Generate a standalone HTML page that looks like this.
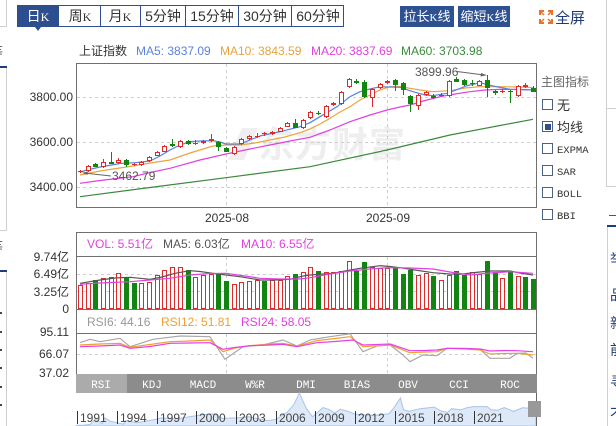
<!DOCTYPE html>
<html><head><meta charset="utf-8"><style>
html,body{margin:0;padding:0;background:#fff;}
body{width:616px;height:426px;overflow:hidden;position:relative;}
svg{position:absolute;left:0;top:0;display:block;}
text{font-family:"Liberation Sans","Noto Sans CJK SC",sans-serif;}
.m text, text.m{font-family:"Liberation Mono","Noto Sans CJK SC",monospace;}
</style></head><body>
<svg width="616" height="426" viewBox="0 0 616 426" xmlns="http://www.w3.org/2000/svg">
<!-- left edge decorations -->
<g stroke="#cfcfcf" fill="none" shape-rendering="crispEdges">
<path d="M6.5,0 V26.5 H0"/>
<path d="M6.5,68 V230.5 H0"/>
<path d="M6.5,272 V426"/>
<path d="M606.5,0 V186.5 H616 M606.5,108.5 H616"/>
<path d="M607.5,227 V426"/>
</g>
<rect x="0" y="66" width="7" height="2" fill="#1f3f7a"/>
<rect x="0" y="270" width="7" height="2" fill="#1f3f7a"/>
<rect x="607" y="225" width="9" height="2" fill="#1f3f7a"/>
<text x="-11" y="57" font-size="14" fill="#555">等</text>
<text x="-11" y="252" font-size="14" fill="#555">等</text>
<g fill="#3b4a5a"><rect x="0" y="312" width="2" height="2"/><rect x="0" y="331" width="2" height="2"/><rect x="0" y="349" width="2" height="2"/><rect x="0" y="367" width="2" height="2"/><rect x="0" y="386" width="2" height="2"/><rect x="0" y="404" width="2" height="2"/></g>
<g font-size="14" fill="#23406e">
<text x="610" y="264">举</text><text x="610" y="300">品</text><text x="610" y="328">新</text><text x="610" y="355">前</text><text x="610" y="387">寻</text><text x="610" y="419">不</text>
</g>
<rect x="609" y="215" width="7" height="1" fill="#555"/>

<!-- top tabs -->
<rect x="17.5" y="5.5" width="326" height="21" fill="#fff" stroke="#2d4f8f"/>
<rect x="17" y="5" width="42" height="22" fill="#2d4f8f"/>
<polygon points="35,27 41,27 38,31" fill="#2d4f8f"/>
<g stroke="#2d4f8f" shape-rendering="crispEdges"><line x1="100.5" y1="5" x2="100.5" y2="27"/><line x1="140.5" y1="5" x2="140.5" y2="27"/><line x1="185.5" y1="5" x2="185.5" y2="27"/><line x1="238.5" y1="5" x2="238.5" y2="27"/><line x1="291.5" y1="5" x2="291.5" y2="27"/></g>
<g font-size="14" text-anchor="middle">
<text x="38" y="21" fill="#fff">日<tspan font-family="Liberation Serif" font-size="12">K</tspan></text>
<text x="80" y="21" fill="#333">周<tspan font-family="Liberation Serif" font-size="12">K</tspan></text>
<text x="120" y="21" fill="#333">月<tspan font-family="Liberation Serif" font-size="12">K</tspan></text>
<text x="163" y="21" fill="#333">5分钟</text>
<text x="212" y="21" fill="#333">15分钟</text>
<text x="265" y="21" fill="#333">30分钟</text>
<text x="318" y="21" fill="#333">60分钟</text>
</g>
<rect x="400" y="6" width="54" height="21" fill="#2d5191"/>
<rect x="458" y="6" width="52" height="21" fill="#2d5191"/>
<g font-size="13" fill="#fff" text-anchor="middle"><text x="427" y="21">拉长<tspan font-family="Liberation Serif" font-size="11">K</tspan>线</text><text x="484" y="21">缩短<tspan font-family="Liberation Serif" font-size="11">K</tspan>线</text></g>
<g stroke="#e8742a" stroke-width="2" fill="none"><path d="M540,15 V11 H544"/><path d="M548,11 H552 V15"/><path d="M540,19 V23 H544"/><path d="M552,19 V23 H548"/><path d="M541,12 L544,15 M551,12 L548,15 M541,22 L544,19 M551,22 L548,19" stroke-width="1.5"/></g>
<text x="555" y="23" font-size="15" fill="#1d3b75">全屏</text>

<!-- legend line -->
<g font-size="12">
<text x="79" y="55" fill="#333">上证指数</text>
<text x="136" y="55" fill="#5a82e0">MA5: 3837.09</text>
<text x="220" y="55" fill="#e8a33a">MA10: 3843.59</text>
<text x="311" y="55" fill="#e040e0">MA20: 3837.69</text>
<text x="401" y="55" fill="#3a8a3a">MA60: 3703.98</text>
</g>

<!-- main chart -->
<path d="M228,160 L242,128 L258,128 L244,160 Z" fill="#efefef"/>
<text x="258" y="157" font-size="36" font-weight="bold" fill="#eeeeee" letter-spacing="1">东方财富</text>
<g stroke="#cfcfcf" stroke-dasharray="3,3" shape-rendering="crispEdges">
<line x1="77" y1="97.5" x2="536" y2="97.5"/><line x1="77" y1="142.5" x2="536" y2="142.5"/><line x1="77" y1="187.5" x2="536" y2="187.5"/>
<line x1="226.5" y1="64" x2="226.5" y2="207"/><line x1="387.5" y1="64" x2="387.5" y2="207"/>
</g>
<rect x="76.5" y="63.5" width="460" height="144" fill="none" stroke="#707070" shape-rendering="crispEdges"/>
<g font-size="12" fill="#333" text-anchor="end"><text x="73" y="101">3800.00</text><text x="73" y="146">3600.00</text><text x="73" y="191">3400.00</text></g>
<g font-size="12" fill="#333" text-anchor="middle"><text x="227" y="222">2025-08</text><text x="388" y="222">2025-09</text></g>

<!-- MA lines -->
<g fill="none" stroke-width="1.2" stroke-linejoin="round">
<polyline stroke="#3a8a3a" points="80,196.7 150,187.5 226,177.7 310,166.7 387,150 450,135 500,125.5 533,119.3"/>
<polyline stroke="#e040e0" points="80,183.3 100,180.5 133,176.7 150,172.5 170,168.3 200,160 226,154 250,149 270,145 290,141 310,137.3 330,130 350,121.7 370,115 387,110 400,107 410,105 425,100.5 440,96.7 455,94 470,91.7 485,90 500,89.3 520,89.5 533,90"/>
<polyline stroke="#eaa540" points="80,175 100,171 133,166 150,163 170,160 190,153 213,146 226,145 240,145 255,143 270,140 285,137 300,132.7 310,129 320,124 330,118.3 340,112 350,106.7 360,100 370,95 380,90 390,86.7 400,86.5 410,88.3 420,90 433,91.7 450,90.7 465,88 480,86.7 500,86.7 520,87 533,87.7"/>
<polyline stroke="#5a82e0" points="80,172 87,170 100,167 120,163.5 135,162.7 150,161 160,156 170,150 180,145 190,141.7 200,141 213,140.7 220,142 226,144 240,144 250,140 260,136 280,131.7 300,126.7 310,122.7 320,116.7 337,106.7 350,96.7 360,91.7 370,89 380,86.7 400,87.3 413,91.7 425,95 433,95.7 447,93.3 456,90 466,86 480,82.7 493,86 510,89.3 533,90"/>
</g>

<!-- red candles -->
<g stroke="#dd2a2a" fill="#fff" shape-rendering="crispEdges">
<line x1="80.5" y1="170" x2="80.5" y2="173"/><line x1="78" y1="171.5" x2="83" y2="171.5"/>
<line x1="88.5" y1="165" x2="88.5" y2="172"/><rect x="86.5" y="166.5" width="4" height="4"/>
<line x1="103.5" y1="159" x2="103.5" y2="168"/><rect x="101.5" y="162.5" width="4" height="4"/>
<line x1="118.5" y1="158" x2="118.5" y2="164"/><rect x="116.5" y="160.5" width="4" height="2"/>
<line x1="134.5" y1="163" x2="134.5" y2="166"/><line x1="132" y1="164.5" x2="137" y2="164.5"/>
<line x1="141.5" y1="161" x2="141.5" y2="166"/><rect x="139.5" y="162.5" width="4" height="2"/>
<line x1="149.5" y1="156" x2="149.5" y2="162"/><rect x="147.5" y="157.5" width="4" height="3"/>
<line x1="157.5" y1="151" x2="157.5" y2="156"/><rect x="155.5" y="152.5" width="4" height="3"/>
<line x1="164.5" y1="145" x2="164.5" y2="152"/><rect x="162.5" y="146.5" width="4" height="5"/>
<line x1="180.5" y1="140" x2="180.5" y2="148"/><rect x="178.5" y="141.5" width="4" height="5"/>
<line x1="195.5" y1="140" x2="195.5" y2="145"/><line x1="193" y1="143.5" x2="198" y2="143.5"/>
<line x1="203.5" y1="140" x2="203.5" y2="144"/><rect x="201.5" y="141.5" width="4" height="1"/>
<line x1="211.5" y1="134" x2="211.5" y2="142"/><rect x="209.5" y="139.5" width="4" height="1"/>
<line x1="234.5" y1="146" x2="234.5" y2="155"/><rect x="232.5" y="147.5" width="4" height="6"/>
<line x1="241.5" y1="138" x2="241.5" y2="145"/><rect x="239.5" y="139.5" width="4" height="4"/>
<line x1="249.5" y1="135" x2="249.5" y2="140"/><rect x="247.5" y="136.5" width="4" height="2"/>
<line x1="257.5" y1="133" x2="257.5" y2="138"/><line x1="255" y1="136.5" x2="260" y2="136.5"/>
<line x1="264.5" y1="132" x2="264.5" y2="136"/><line x1="262" y1="133.5" x2="267" y2="133.5"/>
<line x1="272.5" y1="131" x2="272.5" y2="135"/><rect x="270.5" y="132.5" width="4" height="1"/>
<line x1="280.5" y1="127" x2="280.5" y2="132"/><rect x="278.5" y="128.5" width="4" height="3"/>
<line x1="287.5" y1="122" x2="287.5" y2="127"/><rect x="285.5" y="123.5" width="4" height="3"/>
<line x1="303.5" y1="119" x2="303.5" y2="129"/><rect x="301.5" y="120.5" width="4" height="7"/>
<line x1="310.5" y1="111" x2="310.5" y2="119"/><rect x="308.5" y="112.5" width="4" height="5"/>
<line x1="326.5" y1="105" x2="326.5" y2="118"/><rect x="324.5" y="106.5" width="4" height="10"/>
<line x1="333.5" y1="102" x2="333.5" y2="106"/><rect x="331.5" y="103.5" width="4" height="1"/>
<line x1="341.5" y1="91" x2="341.5" y2="105"/><rect x="339.5" y="92.5" width="4" height="11"/>
<line x1="349.5" y1="78" x2="349.5" y2="88"/><rect x="347.5" y="79.5" width="4" height="7"/>
<line x1="372.5" y1="88" x2="372.5" y2="107"/><rect x="370.5" y="89.5" width="4" height="8"/>
<line x1="380.5" y1="83" x2="380.5" y2="89"/><rect x="378.5" y="84.5" width="4" height="3"/>
<line x1="387.5" y1="80" x2="387.5" y2="84"/><rect x="385.5" y="81.5" width="4" height="1"/>
<line x1="418.5" y1="94" x2="418.5" y2="110"/><rect x="416.5" y="95.5" width="4" height="10"/>
<line x1="426.5" y1="91" x2="426.5" y2="96"/><rect x="424.5" y="92.5" width="4" height="2"/>
<line x1="441.5" y1="93" x2="441.5" y2="97"/><line x1="439" y1="95.5" x2="444" y2="95.5"/>
<line x1="449.5" y1="80" x2="449.5" y2="97"/><rect x="447.5" y="81.5" width="4" height="14"/>
<line x1="479.5" y1="80" x2="479.5" y2="86"/><rect x="477.5" y="81.5" width="4" height="4"/>
<line x1="502.5" y1="89" x2="502.5" y2="93"/><line x1="500" y1="91.5" x2="505" y2="91.5"/>
<line x1="518.5" y1="85" x2="518.5" y2="97"/><rect x="516.5" y="86.5" width="4" height="9"/>
<line x1="525.5" y1="83" x2="525.5" y2="88"/><rect x="523.5" y="85.5" width="4" height="1"/>
</g>
<!-- green candles -->
<g stroke="#128412" fill="#128412" shape-rendering="crispEdges">
<line x1="95.5" y1="163" x2="95.5" y2="167"/><rect x="93" y="164" width="5" height="3" stroke="none"/>
<line x1="111.5" y1="152" x2="111.5" y2="164"/><rect x="109" y="162" width="5" height="2" stroke="none"/>
<line x1="126.5" y1="159" x2="126.5" y2="167"/><rect x="124" y="160" width="5" height="5" stroke="none"/>
<line x1="172.5" y1="139" x2="172.5" y2="147"/><rect x="170" y="144" width="5" height="2" stroke="none"/>
<line x1="188.5" y1="140" x2="188.5" y2="145"/><rect x="186" y="141" width="5" height="3" stroke="none"/>
<line x1="218.5" y1="141" x2="218.5" y2="151"/><rect x="216" y="142" width="5" height="5" stroke="none"/>
<line x1="226.5" y1="147" x2="226.5" y2="152"/><rect x="224" y="148" width="5" height="4" stroke="none"/>
<line x1="295.5" y1="119" x2="295.5" y2="128"/><rect x="293" y="123" width="5" height="5" stroke="none"/>
<line x1="318.5" y1="111" x2="318.5" y2="115"/><rect x="316" y="113" width="5" height="1" stroke="none"/>
<line x1="356.5" y1="79" x2="356.5" y2="84"/><rect x="354" y="81" width="5" height="2" stroke="none"/>
<line x1="364.5" y1="80" x2="364.5" y2="98"/><rect x="362" y="82" width="5" height="15" stroke="none"/>
<line x1="395.5" y1="79" x2="395.5" y2="91"/><rect x="393" y="80" width="5" height="5" stroke="none"/>
<line x1="403.5" y1="82" x2="403.5" y2="95"/><rect x="401" y="83" width="5" height="7" stroke="none"/>
<line x1="410.5" y1="95" x2="410.5" y2="112"/><rect x="408" y="96" width="5" height="8" stroke="none"/>
<line x1="433.5" y1="94" x2="433.5" y2="99"/><rect x="431" y="96" width="5" height="2" stroke="none"/>
<line x1="456.5" y1="77" x2="456.5" y2="82"/><rect x="454" y="79" width="5" height="3" stroke="none"/>
<line x1="464.5" y1="79" x2="464.5" y2="86"/><rect x="462" y="80" width="5" height="5" stroke="none"/>
<line x1="472.5" y1="80" x2="472.5" y2="86"/><rect x="470" y="83" width="5" height="1" stroke="none"/>
<line x1="487.5" y1="75" x2="487.5" y2="97"/><rect x="485" y="80" width="5" height="8" stroke="none"/>
<line x1="495.5" y1="90" x2="495.5" y2="95"/><rect x="493" y="91" width="5" height="2" stroke="none"/>
<line x1="510.5" y1="90" x2="510.5" y2="103"/><rect x="508" y="91" width="5" height="1" stroke="none"/>
<line x1="533.5" y1="86" x2="533.5" y2="92"/><rect x="531" y="88" width="5" height="4" stroke="none"/>
</g>

<!-- annotations -->
<g stroke="#666" fill="#666">
<line x1="84" y1="173" x2="111" y2="176"/><polygon points="82,172.7 88,171.5 87.5,175" stroke="none"/>
<line x1="457" y1="71.5" x2="484" y2="75"/><polygon points="487,75.3 481,73 480.5,76.5" stroke="none"/>
</g>
<g font-size="12" fill="#555"><text x="112" y="180">3462.79</text><text x="415" y="76">3899.96</text></g>

<!-- right indicator panel -->
<text x="541" y="86" font-size="12" fill="#666">主图指标</text>
<g fill="#fff" stroke="#4a6285" shape-rendering="crispEdges">
<rect x="542.5" y="99.5" width="10" height="10"/><rect x="542.5" y="121.5" width="10" height="10"/><rect x="542.5" y="143.5" width="10" height="10"/><rect x="542.5" y="165.5" width="10" height="10"/><rect x="542.5" y="187.5" width="10" height="10"/><rect x="542.5" y="209.5" width="10" height="10"/>
</g>
<rect x="545" y="124" width="6" height="6" fill="#2d4f8f"/>
<g fill="#333"><text x="557" y="110" font-size="13">无</text><text x="557" y="132" font-size="13">均线</text>
<text class="m" x="557" y="153" font-size="10.5">EXPMA</text><text class="m" x="557" y="175" font-size="10.5">SAR</text><text class="m" x="557" y="197" font-size="10.5">BOLL</text><text class="m" x="557" y="219" font-size="10.5">BBI</text></g>

<!-- volume / RSI panel -->
<g stroke="#cfcfcf" stroke-dasharray="3,3" shape-rendering="crispEdges">
<line x1="77" y1="274.5" x2="536" y2="274.5"/><line x1="77" y1="291.5" x2="536" y2="291.5"/>
<line x1="77" y1="354.5" x2="536" y2="354.5"/>
<line x1="226.5" y1="257" x2="226.5" y2="309"/><line x1="387.5" y1="257" x2="387.5" y2="309"/>
<line x1="226.5" y1="334" x2="226.5" y2="374"/><line x1="387.5" y1="334" x2="387.5" y2="374"/>
</g>
<g stroke="#707070" fill="none" shape-rendering="crispEdges">
<path d="M76.5,374 V232.5 H536.5 V374"/>
<line x1="77" y1="256.5" x2="536" y2="256.5"/>
<line x1="77" y1="309.5" x2="536" y2="309.5"/>
<line x1="77" y1="333.5" x2="536" y2="333.5"/>
</g>
<g font-size="12">
<text x="87" y="248" fill="#e040e0">VOL: 5.51亿</text>
<text x="163" y="248" fill="#555">MA5: 6.03亿</text>
<text x="241" y="248" fill="#e040e0">MA10: 6.55亿</text>
<text x="87" y="326" fill="#999">RSI6: 44.16</text>
<text x="161" y="326" fill="#f0a030">RSI12: 51.81</text>
<text x="241" y="326" fill="#e040e0">RSI24: 58.05</text>
</g>
<g font-size="12" fill="#333" text-anchor="end">
<text x="69" y="261">9.74亿</text><text x="69" y="278">6.49亿</text><text x="69" y="296">3.25亿</text><text x="69" y="313">0</text>
<text x="69" y="336">95.11</text><text x="69" y="358">66.07</text><text x="69" y="377">37.02</text>
</g>

<!-- volume bars -->
<g stroke="#dd2a2a" fill="#fff" shape-rendering="crispEdges">
<rect x="78.5" y="285.5" width="4" height="23"/><rect x="86.5" y="283.5" width="4" height="25"/><rect x="101.5" y="278.5" width="4" height="30"/><rect x="109.5" y="277.5" width="4" height="31"/><rect x="116.5" y="273.5" width="4" height="35"/><rect x="139.5" y="283.5" width="4" height="25"/><rect x="147.5" y="282.5" width="4" height="26"/><rect x="155.5" y="275.5" width="4" height="33"/><rect x="162.5" y="270.5" width="4" height="38"/><rect x="170.5" y="267.5" width="4" height="41"/><rect x="178.5" y="267.5" width="4" height="41"/><rect x="193.5" y="277.5" width="4" height="31"/><rect x="201.5" y="275.5" width="4" height="33"/><rect x="209.5" y="274.5" width="4" height="34"/><rect x="232.5" y="284.5" width="4" height="24"/><rect x="239.5" y="282.5" width="4" height="26"/><rect x="247.5" y="281.5" width="4" height="27"/><rect x="255.5" y="280.5" width="4" height="28"/><rect x="270.5" y="280.5" width="4" height="28"/><rect x="278.5" y="280.5" width="4" height="28"/><rect x="285.5" y="276.5" width="4" height="32"/><rect x="301.5" y="272.5" width="4" height="36"/><rect x="308.5" y="267.5" width="4" height="41"/><rect x="324.5" y="272.5" width="4" height="36"/><rect x="331.5" y="272.5" width="4" height="36"/><rect x="339.5" y="271.5" width="4" height="37"/><rect x="347.5" y="261.5" width="4" height="47"/><rect x="370.5" y="267.5" width="4" height="41"/><rect x="378.5" y="268.5" width="4" height="40"/><rect x="385.5" y="268.5" width="4" height="40"/><rect x="416.5" y="275.5" width="4" height="33"/><rect x="424.5" y="273.5" width="4" height="35"/><rect x="439.5" y="280.5" width="4" height="28"/><rect x="447.5" y="275.5" width="4" height="33"/><rect x="470.5" y="272.5" width="4" height="36"/><rect x="477.5" y="274.5" width="4" height="34"/><rect x="500.5" y="278.5" width="4" height="30"/><rect x="516.5" y="276.5" width="4" height="32"/>
</g>
<g fill="#128412" shape-rendering="crispEdges">
<rect x="93" y="280" width="5" height="29"/><rect x="124" y="277" width="5" height="32"/><rect x="132" y="283" width="5" height="26"/><rect x="186" y="270" width="5" height="39"/><rect x="216" y="273" width="5" height="36"/><rect x="224" y="281" width="5" height="28"/><rect x="262" y="281" width="5" height="28"/><rect x="293" y="274" width="5" height="35"/><rect x="316" y="271" width="5" height="38"/><rect x="354" y="271" width="5" height="38"/><rect x="362" y="262" width="5" height="47"/><rect x="393" y="268" width="5" height="41"/><rect x="401" y="274" width="5" height="35"/><rect x="408" y="270" width="5" height="39"/><rect x="431" y="276" width="5" height="33"/><rect x="454" y="271" width="5" height="38"/><rect x="462" y="275" width="5" height="34"/><rect x="485" y="261" width="5" height="48"/><rect x="493" y="272" width="5" height="37"/><rect x="508" y="272" width="5" height="37"/><rect x="523" y="277" width="5" height="32"/><rect x="531" y="279" width="5" height="30"/>
</g>
<g fill="none" stroke-width="1.2" stroke-linejoin="round">
<polyline stroke="#555" points="80,283.3 100,280 115,278 130,277.3 150,279.3 162,277 175,273.3 190,270.7 200,271.5 213,273.3 226,275 240,276.7 260,280 275,280 290,279.3 303,276 310,275 333,273.3 345,271 360,268.3 380,265.7 390,266.5 400,267.7 415,270 433,272.7 450,274 460,274.3 475,272.5 490,271 510,271 520,273 533,275"/>
<polyline stroke="#e040e0" points="80,284.3 100,283 130,281.7 150,280 170,278.3 190,275 210,273.5 226,273.3 245,276 260,278.3 280,279 300,279 310,277.7 330,274 350,271 370,269 387,267.7 410,268 433,269 450,272 470,275 490,273 510,271.7 533,273.3"/>
</g>

<!-- RSI lines -->
<g fill="none" stroke-width="1.2" stroke-linejoin="round">
<polyline stroke="#a8a8a8" points="80,342.7 90,339.3 100,341.7 120,338.3 130,346.7 153,339.3 180,336 210,336.7 225,359.3 243,346.7 263,345 283,340 297,346 310,340 330,336.7 350,333.8 363,351.7 377,346 390,345 403,355 410,361.7 423,355 437,355.7 447,348.3 465,348.5 480,349.3 490,358.3 510,358.3 517,353.3 526,353 533,358.3"/>
<polyline stroke="#f0a030" points="80,345 100,344 120,343.3 130,347.3 150,344.5 170,341.7 190,341 210,340 223,351.7 235,348 250,345.7 270,344 283,343.3 297,346 317,340.7 335,338.5 350,336.7 363,346.7 390,345 410,352.7 425,352 437,351.7 447,348.3 465,349 480,350 490,354 505,353.5 517,353.3 533,355"/>
<polyline stroke="#e83ee8" points="80,346.7 100,346 120,345 130,348.3 150,346.5 170,343.3 190,343 210,342.7 223,349.3 235,347.5 250,345.7 270,345 283,344.3 297,346.7 317,342.7 335,341.5 353,340 363,345 390,344 410,350.7 425,350.5 437,350 447,348.3 465,348.5 480,349 490,351 505,350.5 517,350.7 533,351.7"/>
</g>

<!-- bottom indicator tabs -->
<rect x="76" y="374" width="461" height="19" fill="#8c8c8c"/>
<rect x="76" y="374" width="51" height="19" fill="#ababab"/>
<g class="m" font-size="11" fill="#fff" text-anchor="middle">
<text x="101" y="388">RSI</text><text x="152" y="388">KDJ</text><text x="203" y="388">MACD</text><text x="255" y="388">W%R</text><text x="306" y="388">DMI</text><text x="357" y="388">BIAS</text><text x="408" y="388">OBV</text><text x="459" y="388">CCI</text><text x="510" y="388">ROC</text>
</g>

<!-- navigator -->
<path d="M76,426 L77,425.3 L83.6,425.2 L90.2,424.4 L95.5,418.4 L102.1,423.8 L104.8,417.9 L110.1,421.1 L123.3,424.2 L126,420.6 L136.5,422.8 L155.1,419.5 L161.7,417.9 L176.3,419 L189.5,416.8 L202.7,414.7 L214.6,413.9 L222.5,418.4 L235.8,417.9 L249,416.8 L267.5,420.6 L275.5,419.5 L287.4,412 L294,404.4 L299.3,392.9 L305.9,407.6 L312.5,416.8 L323.1,407.6 L328.4,409.3 L335,413 L340.3,409.3 L348.2,411.4 L354.8,414.1 L366.7,415.2 L374.7,415.2 L381.3,414.7 L389.2,413.6 L393.2,408.7 L400.5,398 L402.5,406 L403.8,409.8 L409.1,411.4 L419.7,408.7 L434.2,407.1 L440.9,410.9 L447.5,412.5 L451.4,408.7 L460.7,409.8 L467.3,407.6 L473.9,406.6 L487.1,406.6 L491.1,409.8 L497.7,410.3 L504.3,407.6 L513.6,411.4 L522.9,407.6 L526.9,408.2 L536,405.2 L536,426 Z" fill="#dde9f8" stroke="#a9c4ea" stroke-width="1"/>
<g stroke="#333" shape-rendering="crispEdges">
<line x1="77.5" y1="411" x2="77.5" y2="424"/><line x1="117.5" y1="411" x2="117.5" y2="424"/><line x1="157.5" y1="411" x2="157.5" y2="424"/><line x1="196.5" y1="411" x2="196.5" y2="424"/><line x1="236.5" y1="411" x2="236.5" y2="424"/><line x1="276.5" y1="411" x2="276.5" y2="424"/><line x1="315.5" y1="411" x2="315.5" y2="424"/><line x1="355.5" y1="411" x2="355.5" y2="424"/><line x1="395.5" y1="411" x2="395.5" y2="424"/><line x1="434.5" y1="411" x2="434.5" y2="424"/><line x1="474.5" y1="411" x2="474.5" y2="424"/>
</g>
<g font-size="12" fill="#444">
<text x="80" y="422">1991</text><text x="120" y="422">1994</text><text x="160" y="422">1997</text><text x="199" y="422">2000</text><text x="239" y="422">2003</text><text x="279" y="422">2006</text><text x="318" y="422">2009</text><text x="358" y="422">2012</text><text x="398" y="422">2015</text><text x="437" y="422">2018</text><text x="477" y="422">2021</text>
</g>
<line x1="536.5" y1="393" x2="536.5" y2="426" stroke="#666" shape-rendering="crispEdges"/>
<rect x="528" y="401" width="13" height="16" fill="#999"/>
</svg>
</body></html>
